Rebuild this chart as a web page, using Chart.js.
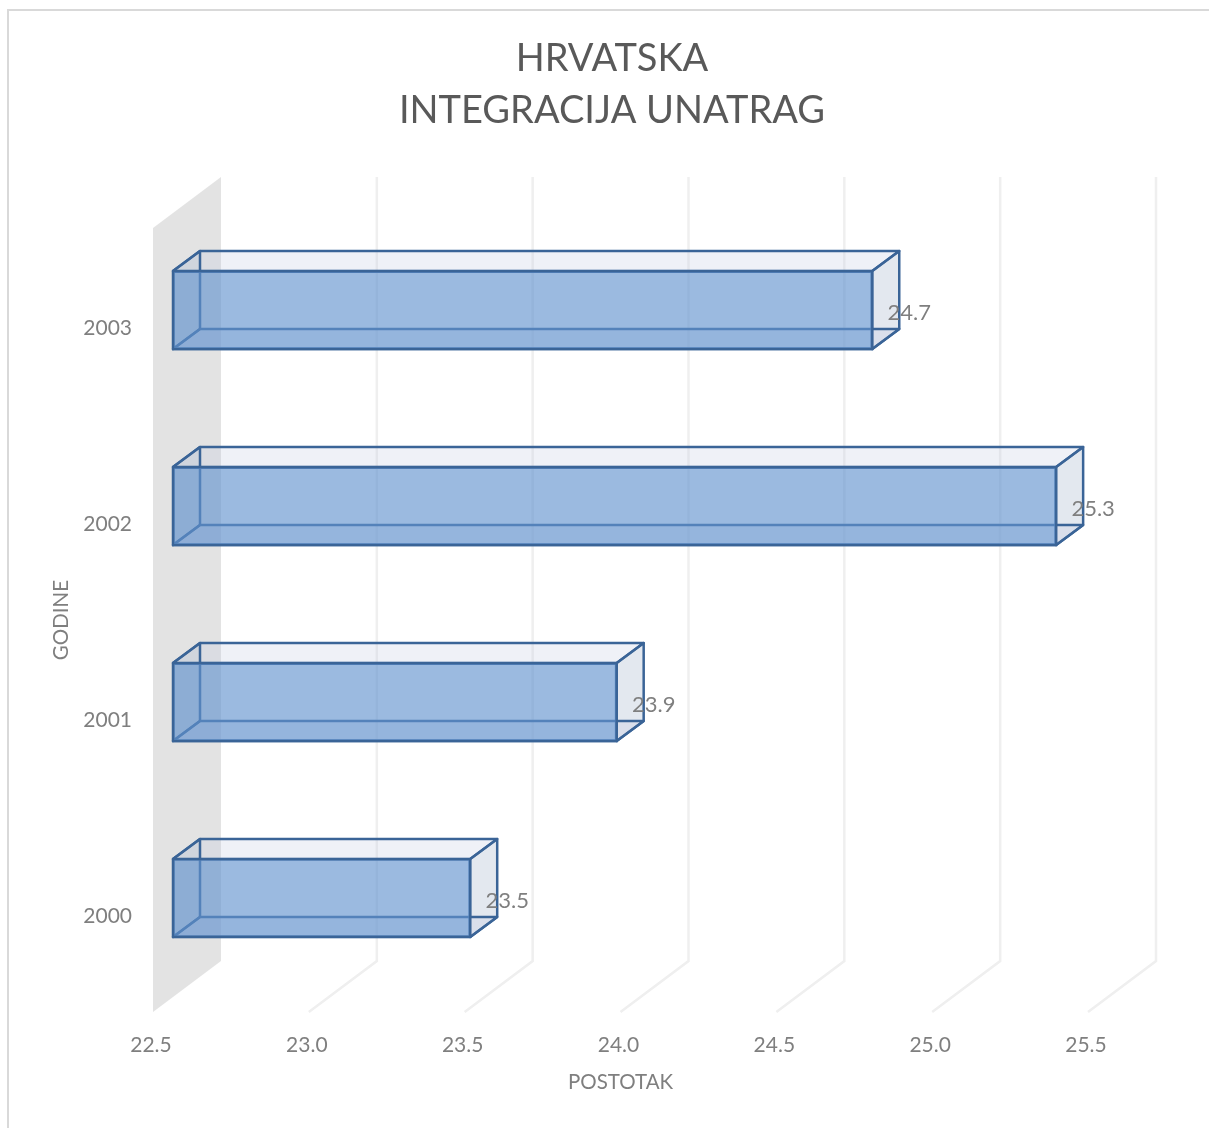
<!DOCTYPE html>
<html>
<head>
<meta charset="utf-8">
<title>Hrvatska integracija unatrag</title>
<script src="https://cdn.jsdelivr.net/npm/chart.js@4"></script>
<style>
  html, body { margin: 0; padding: 0; background: #fff; overflow: hidden; }
  #frame { position: absolute; left: 7px; top: 9px; width: 1400px; height: 1400px; border: 2px solid #d9d9d9; box-sizing: border-box; }
  #c { position: absolute; left: 0; top: 0; }
</style>
</head>
<body>
<div id="frame"></div>
<canvas id="c" width="1209" height="1128"></canvas>
<script>
const years = ['2003', '2002', '2001', '2000'];
const percent = [24.75, 25.34, 23.93, 23.46];
const percentLabels = ['24.7', '25.3', '23.9', '23.5'];
const xTicks = [22.5, 23.0, 23.5, 24.0, 24.5, 25.0, 25.5];
const titleLines = ['HRVATSKA', 'INTEGRACIJA UNATRAG'];

const FONT = 'Lato, "Open Sans", sans-serif';
const TEXT = '#7f7f7f';
const EDGE = '#3a6497';

// depth of the fake 3D: wall/floor, bar position in it, and the box itself
const wallDx = 68, wallDy = 51;
const barDx = 19, barDy = 16;
const boxDx = 27, boxDy = 20;

const backPlane = {
  id: 'backPlane',
  afterLayout(chart) {
    // title is centred on the whole canvas, not on the padded area
    chart.titleBlock.left = 15;
    chart.titleBlock.right = 1209;
  },
  beforeDatasetsDraw(chart) {
    const { ctx, chartArea: a, scales: { x } } = chart;
    ctx.save();
    ctx.fillStyle = '#e3e3e3';
    ctx.beginPath();
    ctx.moveTo(a.left, a.top);
    ctx.lineTo(a.left + wallDx, a.top - wallDy);
    ctx.lineTo(a.left + wallDx, a.bottom - wallDy);
    ctx.lineTo(a.left, a.bottom);
    ctx.closePath();
    ctx.fill();

    ctx.strokeStyle = '#efefef';
    ctx.lineWidth = 2.5;
    x.ticks.slice(1).forEach((t) => {
      const px = x.getPixelForValue(t.value);
      ctx.beginPath();
      ctx.moveTo(px, a.bottom);
      ctx.lineTo(px + wallDx, a.bottom - wallDy);
      ctx.lineTo(px + wallDx, a.top - wallDy);
      ctx.stroke();
    });
    ctx.restore();
  }
};

function face(ctx, pts, fill) {
  ctx.beginPath();
  pts.forEach((p, i) => (i ? ctx.lineTo(p[0], p[1]) : ctx.moveTo(p[0], p[1])));
  ctx.closePath();
  if (fill) { ctx.fillStyle = fill; ctx.fill(); }
  ctx.stroke();
}

// back faces of every box go under the bar, the bar is moved to the front plane
const box3d = {
  id: 'box3d',
  beforeDatasetDraw(chart) {
    const { ctx } = chart;
    ctx.save();
    ctx.translate(barDx, -barDy);
    ctx.lineWidth = 2.5;
    ctx.strokeStyle = EDGE;
    ctx.lineJoin = 'round';
    chart.getDatasetMeta(0).data.forEach((bar) => {
      const l = bar.base + 1, r = bar.x - 1;
      const t = bar.y - bar.height / 2 + 1, b = bar.y + bar.height / 2 - 1;
      const dx = boxDx, dy = boxDy;
      face(ctx, [[l, t], [l + dx, t - dy], [r + dx, t - dy], [r, t]], 'rgba(190,200,225,0.25)');
      face(ctx, [[r, t], [r + dx, t - dy], [r + dx, b - dy], [r, b]], 'rgba(170,185,205,0.33)');
      face(ctx, [[l, t], [l + dx, t - dy], [l + dx, b - dy], [l, b]], 'rgba(170,185,205,0.2)');
      face(ctx, [[l, b], [l + dx, b - dy], [r + dx, b - dy], [r, b]], 'rgba(190,200,225,0.25)');
    });
  },
  afterDatasetDraw(chart) {
    chart.ctx.restore();
  },
  afterDatasetsDraw(chart) {
    const { ctx } = chart;
    ctx.save();
    ctx.font = '22px ' + FONT;
    ctx.fillStyle = TEXT;
    ctx.textAlign = 'center';
    ctx.textBaseline = 'middle';
    chart.getDatasetMeta(0).data.forEach((bar, i) => {
      ctx.fillText(percentLabels[i], bar.x + barDx + 36, bar.y - barDy + 3);
    });
    ctx.restore();
  }
};

new Chart(document.getElementById('c').getContext('2d'), {
  type: 'bar',
  data: {
    labels: years,
    datasets: [{
      label: 'Postotak',
      data: percent,
      base: xTicks[0],
      barThickness: 80,
      backgroundColor: 'rgba(98,147,206,0.64)',
      borderColor: EDGE,
      borderWidth: 2.5,
      borderSkipped: false
    }]
  },
  plugins: [backPlane, box3d],
  options: {
    indexAxis: 'y',
    responsive: false,
    animation: false,
    layout: { padding: { top: 0, left: 0, right: 121, bottom: 0 } },
    plugins: {
      legend: { display: false },
      tooltip: { enabled: false },
      title: {
        display: true,
        text: titleLines,
        color: '#595959',
        font: { family: FONT, size: 38, weight: 'normal', lineHeight: 1.37 },
        padding: { top: 33, bottom: 91 }
      }
    },
    scales: {
      x: {
        type: 'linear',
        min: xTicks[0],
        max: xTicks[xTicks.length - 1],
        afterFit(s) { s.height = 116; },
        grid: { display: false, drawTicks: false },
        border: { display: false },
        afterBuildTicks(s) { s.ticks = xTicks.map((v) => ({ value: v })); },
        ticks: {
          color: TEXT,
          font: { family: FONT, size: 21 },
          padding: 21,
          maxRotation: 0,
          labelOffset: -2,
          callback: (v) => Number(v).toFixed(1)
        },
        title: {
          display: true,
          text: 'POSTOTAK',
          color: TEXT,
          font: { family: FONT, size: 20.5 },
          padding: { top: 0, bottom: 33 }
        }
      },
      y: {
        afterFit(s) { s.width = 153; },
        grid: { display: false, drawTicks: false },
        border: { display: false },
        ticks: {
          color: TEXT,
          font: { family: FONT, size: 21 },
          padding: 21,
          labelOffset: 2
        },
        title: {
          display: true,
          text: 'GODINE',
          color: TEXT,
          font: { family: FONT, size: 20.5 },
          padding: { top: 49, bottom: 0 }
        }
      }
    }
  }
});
</script>
</body>
</html>
